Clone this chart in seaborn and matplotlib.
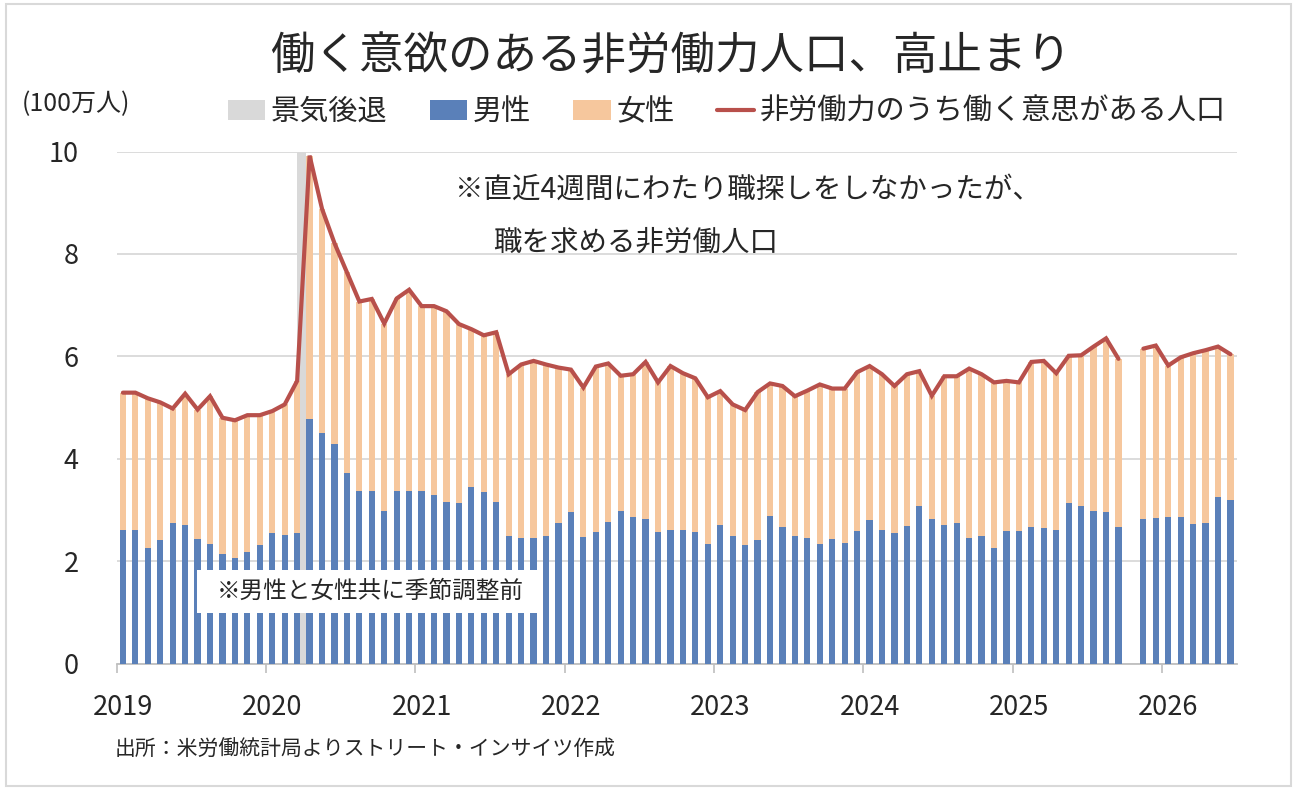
import numpy as np
import pandas as pd
import matplotlib
matplotlib.use("Agg")
import matplotlib.pyplot as plt
from matplotlib.patches import Rectangle, Patch
from matplotlib.lines import Line2D
import seaborn as sns

# ---------------- data (millions of people) ----------------
months = pd.period_range("2019-01", "2026-06", freq="M").strftime("%Y-%m").tolist()

male_2019 = [2.60, 2.60, 2.25, 2.41, 2.75, 2.71, 2.44, 2.34, 2.14, 2.07, 2.18, 2.32]
male_2020 = [2.55, 2.51, 2.55, 4.78, 4.51, 4.28, 3.72, 3.37, 3.36, 2.98, 3.37, 3.37]
male_2021 = [3.36, 3.30, 3.16, 3.14, 3.45, 3.34, 3.16, 2.50, 2.45, 2.45, 2.50, 2.75]
male_2022 = [2.95, 2.48, 2.57, 2.77, 2.98, 2.86, 2.83, 2.57, 2.61, 2.60, 2.57, 2.34]
male_2023 = [2.71, 2.50, 2.31, 2.41, 2.88, 2.66, 2.50, 2.45, 2.34, 2.43, 2.36, 2.58]
male_2024 = [2.81, 2.61, 2.55, 2.69, 3.08, 2.83, 2.71, 2.75, 2.45, 2.49, 2.26, 2.59]
male_2025 = [2.58, 2.67, 2.65, 2.61, 3.14, 3.08, 2.98, 2.95, 2.67, np.nan, 2.83, 2.85]
male_2026 = [2.86, 2.86, 2.73, 2.75, 3.25, 3.20]

# total = men + women = "非労働力のうち働く意思がある人口"
total_2019 = [5.29, 5.29, 5.18, 5.10, 4.98, 5.27, 4.96, 5.22, 4.80, 4.75, 4.85, 4.85]
total_2020 = [4.93, 5.06, 5.52, 9.92, 8.88, 8.21, 7.64, 7.07, 7.12, 6.64, 7.13, 7.30]
total_2021 = [6.98, 6.98, 6.88, 6.63, 6.53, 6.41, 6.47, 5.65, 5.84, 5.91, 5.84, 5.78]
total_2022 = [5.74, 5.39, 5.80, 5.86, 5.62, 5.65, 5.89, 5.49, 5.81, 5.67, 5.57, 5.20]
total_2023 = [5.32, 5.06, 4.95, 5.30, 5.47, 5.42, 5.22, 5.33, 5.45, 5.37, 5.37, 5.69]
total_2024 = [5.81, 5.65, 5.42, 5.65, 5.71, 5.23, 5.61, 5.61, 5.76, 5.65, 5.49, 5.52]
total_2025 = [5.49, 5.89, 5.91, 5.67, 6.01, 6.02, 6.19, 6.35, 5.95, np.nan, 6.15, 6.21]
total_2026 = [5.82, 5.98, 6.06, 6.12, 6.19, 6.04]

male = male_2019 + male_2020 + male_2021 + male_2022 + male_2023 + male_2024 + male_2025 + male_2026
total = total_2019 + total_2020 + total_2021 + total_2022 + total_2023 + total_2024 + total_2025 + total_2026

recession_month = "2020-03"
year_labels = ["2019", "2020", "2021", "2022", "2023", "2024", "2025", "2026"]
y_ticks = [0, 2, 4, 6, 8, 10]

# ---------------- style ----------------
BLUE = "#5a80b9"
ORANGE = "#f6c79d"
RED = "#b8504b"
GREY = "#d9d9d9"
TXT = "#262626"

W, H = 1298, 794
sns.set_theme(style="white")
plt.rcParams['font.family'] = ['Noto Sans CJK JP', 'DejaVu Sans']


def px(x, y):
    return x / W, 1 - y / H


fig = plt.figure(figsize=(W / 100, H / 100), dpi=100)
fig.patch.set_facecolor("white")
L, R, T, B = 116.7, 1236.7, 151.5, 663.5
ax = fig.add_axes([L / W, 1 - B / H, (R - L) / W, (B - T) / H])
ax.set_facecolor("white")

df = pd.DataFrame({"month": months, "male": male, "total": total}).dropna()

# women stacked on men: draw total (orange) and men (blue) on top
sns.barplot(data=df, x="month", y="total", order=months, color=ORANGE, width=0.5,
            saturation=1, errorbar=None, ax=ax, zorder=2, linewidth=0)
sns.barplot(data=df, x="month", y="male", order=months, color=BLUE, width=0.5,
            saturation=1, errorbar=None, ax=ax, zorder=3, linewidth=0)

# recession band
i0 = months.index(recession_month)
ax.axvspan(i0, i0 + 0.72, ymin=0, ymax=1, color=GREY, zorder=1, lw=0)

# line
pos = np.arange(len(months))
ax.plot(pos, np.array(total, dtype=float), color=RED, lw=3, zorder=4,
        solid_joinstyle="miter")

ax.set_xlim(-0.5, len(months) - 0.5)
ax.set_ylim(0, 10)
ax.set_xlabel("")
ax.set_ylabel("")

# axes styling
for s in ["left", "right", "top"]:
    ax.spines[s].set_visible(False)
ax.spines["bottom"].set_color("#bfbfbf")
ax.spines["bottom"].set_linewidth(1.3)
ax.yaxis.grid(True, color=GREY, lw=1.3)
ax.xaxis.grid(False)
ax.set_axisbelow(True)

ax.set_yticks(y_ticks)
ax.set_yticklabels([str(v) for v in y_ticks])
ax.tick_params(axis="y", length=0, pad=27.5, labelsize=19.5, labelcolor=TXT)

year_pos = [months.index(f"{y}-01") for y in year_labels]
ax.set_xticks(year_pos)
ax.set_xticklabels(year_labels)
ax.set_xticks([p - 0.5 for p in year_pos], minor=True)
ax.tick_params(axis="x", which="major", length=0, pad=22, labelsize=19.5, labelcolor=TXT)
ax.tick_params(axis="x", which="minor", length=6.5, width=1.2, color="#bfbfbf", bottom=True)

# note box
bx0, by0, bx1, by1 = 197, 570, 543, 613
ax.add_patch(Rectangle(px(bx0, by1), (bx1 - bx0) / W, (by1 - by0) / H,
                       transform=fig.transFigure, facecolor="white", edgecolor="none",
                       zorder=6, clip_on=False))
ax.text(*px((bx0 + bx1) / 2, (by0 + by1) / 2), "※男性と女性共に季節調整前",
        transform=fig.transFigure, ha="center", va="center", fontsize=17,
        color=TXT, zorder=7)

# title & texts
fig.text(*px(671, 57), "働く意欲のある非労働力人口、高止まり", ha="center", va="center",
         fontsize=32, color=TXT)
fig.text(*px(22, 104), "(100万人)", ha="left", va="center", fontsize=18, color=TXT)
fig.text(*px(455, 190), "※直近4週間にわたり職探しをしなかったが、", ha="left", va="center",
         fontsize=20.5, color=TXT)
fig.text(*px(493, 243), "職を求める非労働人口", ha="left", va="center",
         fontsize=20.5, color=TXT)
fig.text(*px(115, 750), "出所：米労働統計局よりストリート・インサイツ作成", ha="left",
         va="center", fontsize=15, color=TXT)

# legend
handles = [Patch(facecolor=GREY, edgecolor="none"),
           Patch(facecolor=BLUE, edgecolor="none"),
           Patch(facecolor=ORANGE, edgecolor="none"),
           Line2D([], [], color=RED, lw=3)]
labels = ["景気後退", "男性", "女性", "非労働力のうち働く意思がある人口"]
fig.legend(handles, labels, ncol=4, loc="center", bbox_to_anchor=px(727, 112),
           frameon=False, fontsize=21, handlelength=1.28, handleheight=0.7,
           handletextpad=0.2, columnspacing=1.45, labelcolor=TXT)

# outer frame
fig.add_artist(Rectangle(px(6, 786), (1291 - 6) / W, (786 - 4) / H,
                         transform=fig.transFigure, fill=False, edgecolor=GREY, lw=1.5))

fig.savefig("out.png", dpi=100)
